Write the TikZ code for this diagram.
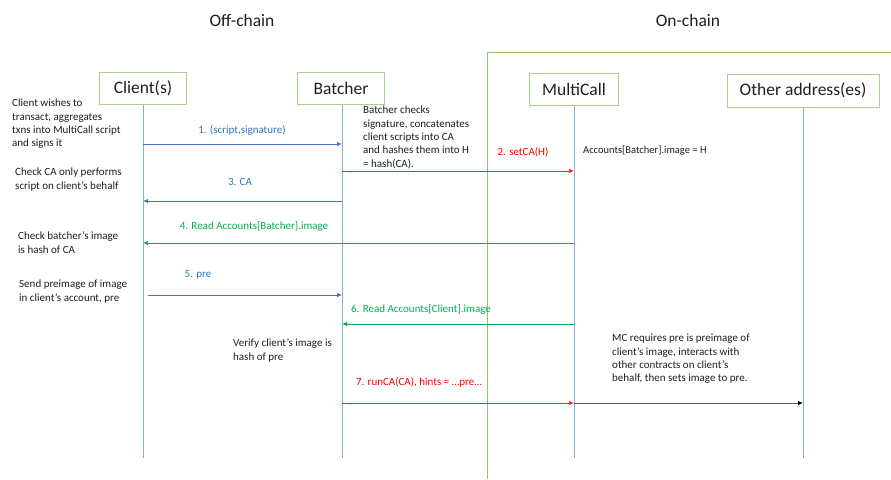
\documentclass[tikz,border=0pt]{standalone}
\usepackage{fontspec}
\setmainfont{Carlito}
\usetikzlibrary{arrows.meta}
\definecolor{lifeblue}{RGB}{143,170,220}
\definecolor{boxgreen}{RGB}{169,209,142}
\definecolor{msgblue}{RGB}{68,114,196}
\definecolor{lblblue}{RGB}{46,117,182}
\definecolor{msgred}{RGB}{255,0,0}
\definecolor{msggreen}{RGB}{0,176,80}
\definecolor{regiongreen}{RGB}{146,196,110}
\definecolor{notegray}{RGB}{30,30,30}
\begin{document}
\begin{tikzpicture}[x=1pt,y=-1pt,
  actor/.style={draw=boxgreen, line width=1pt, minimum height=32pt, inner sep=0pt, font=\fontsize{17.5}{20}\selectfont, text=notegray},
  life/.style={draw=lifeblue, line width=1pt},
  msg/.style={line width=0.8pt, -{Latex[length=5pt,width=4.5pt]}},
  note/.style={anchor=north west, align=left, inner sep=0pt, font=\fontsize{11}{13.3}\selectfont, text=notegray},
  lbl/.style={inner sep=0pt, font=\fontsize{11}{13}\selectfont},
  title/.style={inner sep=0pt, font=\fontsize{17.5}{20}\selectfont, text=notegray}]
\useasboundingbox (0,0) rectangle (891,479);

% titles
\node[title] (offchain) at (242,20) {Off-chain};
\node[title] (onchain) at (688,20) {On-chain};

% on-chain region
\coordinate (regtr) at (891,52);
\coordinate (regtl) at (487,52);
\coordinate (regbl) at (487,479);
\draw[regiongreen, line width=0.9pt] (regtr) -- (regtl) -- (regbl);

% actors
\node[actor, minimum width=87pt] (client) at (143,88) {Client(s)};
\node[actor, minimum width=87pt] (batcher) at (341,88) {Batcher};
\node[actor, minimum width=89pt] (mc) at (574,89) {MultiCall};
\node[actor, minimum width=152pt, minimum height=33pt] (other) at (803,90.5) {Other address(es)};

% lifelines
\coordinate (clientend) at (143,458);
\coordinate (batcherend) at (342,458);
\coordinate (mcend) at (574,458);
\coordinate (otherend) at (803,458);
\draw[life] (client.south) -- (clientend);
\draw[life] (batcher.south -| batcherend) -- (batcherend);
\draw[life] (mc.south) -- (mcend);
\draw[life] (other.south) -- (otherend);

% message points
\coordinate (c1) at (143,144); \coordinate (b1) at (342,144);
\coordinate (b2) at (342,171); \coordinate (m2) at (574,171);
\coordinate (b3) at (342,201); \coordinate (c3) at (143,201);
\coordinate (m4) at (574,243); \coordinate (c4) at (143,243);
\coordinate (c5) at (148,295); \coordinate (b5) at (342,295);
\coordinate (m6) at (574,324); \coordinate (b6) at (342,324);
\coordinate (b7) at (342,403); \coordinate (m7) at (574,403);
\coordinate (o8) at (803,403);

% messages
\draw[msg, msgblue] (c1) -- (b1);
\node[lbl, text=lblblue] (l1) at (242,130) {1. (script,signature)};
\draw[msg, msgred!85] (b2) -- (m2);
\node[lbl, text=msgred] (l2) at (523,152) {2. setCA(H)};
\draw[msg, msgblue] (b3) -- (c3);
\node[lbl, text=lblblue] (l3) at (240,182) {3. CA};
\draw[msg, msggreen] (m4) -- (c4);
\node[lbl, text=msggreen] (l4) at (254,226) {4. Read Accounts[Batcher].image};
\draw[msg, msgblue] (c5) -- (b5);
\node[lbl, text=lblblue] (l5) at (198,275) {5. pre};
\draw[msg, msggreen] (m6) -- (b6);
\node[lbl, text=msggreen] (l6) at (421,309) {6. Read Accounts[Client].image};
\draw[msg, msgred!85] (b7) -- (m7);
\node[lbl, text=msgred] (l7) at (419,382) {7. runCA(CA), hints = …pre…};
\draw[line width=0.8pt, black!65, -{Latex[length=5pt,width=4.5pt,black]}] (m7) -- (o8);

% notes
\node[note] (n1) at (12,99) {Client wishes to\\transact, aggregates\\txns into MultiCall script\\and signs it};
\node[note] (n2) at (15,168) {Check CA only performs\\script on client’s behalf};
\node[note] (n3) at (18,232) {Check batcher’s image\\is hash of CA};
\node[note] (n4) at (19,280) {Send preimage of image\\in client’s account, pre};
\node[note] (n5) at (363,106) {Batcher checks\\signature, concatenates\\client scripts into CA\\and hashes them into H\\= hash(CA).};
\node[note, font=\fontsize{10.5}{13}\selectfont] (n6) at (583,146) {Accounts[Batcher].image = H};
\node[note] (n7) at (233,339) {Verify client’s image is\\hash of pre};
\node[note] (n8) at (612,334) {MC requires pre is preimage of\\client’s image, interacts with\\other contracts on client’s\\behalf, then sets image to pre.};
\end{tikzpicture}
\end{document}
